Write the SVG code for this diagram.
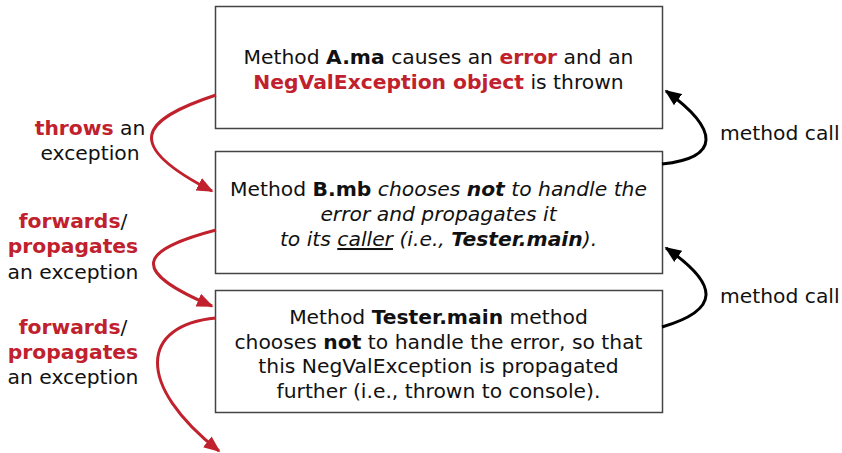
<svg xmlns="http://www.w3.org/2000/svg" width="842" height="453" viewBox="0 0 842 453">
<defs>
<style>
text{font-family:"DejaVu Sans","Verdana",sans-serif;font-size:20.3px;fill:#111}
.c{text-anchor:middle}
.r{fill:#c0212d;font-weight:bold}
.b{font-weight:bold}
.i{font-style:italic}
.box{fill:#fff;stroke:#444;stroke-width:1.5}
.red{fill:none;stroke:#c0212d;stroke-width:3}
.blk{fill:none;stroke:#000;stroke-width:3}
</style>
<marker id="ar" viewBox="0 0 10 10" refX="9" refY="5" markerWidth="5.5" markerHeight="5.5" orient="auto" markerUnits="strokeWidth">
<path d="M0,0.8 L10,5 L0,9.2 z" fill="#c0212d"/>
</marker>
<marker id="ab" viewBox="0 0 10 10" refX="9" refY="5" markerWidth="5.5" markerHeight="5.5" orient="auto" markerUnits="strokeWidth">
<path d="M0,0.8 L10,5 L0,9.2 z" fill="#000"/>
</marker>
</defs>
<rect width="842" height="453" fill="#fff"/>
<g id="nodeA">
<rect class="box" x="215.5" y="6.5" width="447" height="122"/>
<text class="c" x="438.5" y="64">Method <tspan class="b">A.ma</tspan> causes an <tspan class="r">error</tspan> and an</text>
<text class="c" x="438.5" y="89"><tspan class="r">NegValException object</tspan> is thrown</text>
</g>
<g id="nodeB">
<rect class="box" x="215.5" y="151.5" width="447" height="122"/>
<text class="c" x="438.5" y="196">Method <tspan class="b">B.mb</tspan> <tspan class="i">chooses </tspan><tspan class="i b">not</tspan><tspan class="i"> to handle the</tspan></text>
<text class="c i" x="438.5" y="221">error and propagates it</text>
<text class="c i" x="438.5" y="246">to its <tspan text-decoration="underline">caller</tspan> (i.e., <tspan class="b">Tester.main</tspan>).</text>
</g>
<g id="nodeC">
<rect class="box" x="215.5" y="290.5" width="447" height="122"/>
<text class="c" x="438.5" y="324">Method <tspan class="b">Tester.main</tspan> method</text>
<text class="c" x="438.5" y="349">chooses <tspan class="b">not</tspan> to handle the error, so that</text>
<text class="c" x="438.5" y="373">this NegValException is propagated</text>
<text class="c" x="438.5" y="398">further (i.e., thrown to console).</text>
</g>
<g id="labels">
<text class="c" x="90" y="135"><tspan class="r">throws</tspan> an</text>
<text class="c" x="90" y="160">exception</text>
<text class="c" x="73" y="228"><tspan class="r">forwards</tspan>/</text>
<text class="c r" x="73" y="253">propagates</text>
<text class="c" x="73" y="279">an exception</text>
<text class="c" x="73" y="334"><tspan class="r">forwards</tspan>/</text>
<text class="c r" x="73" y="359">propagates</text>
<text class="c" x="73" y="384">an exception</text>
<text x="720" y="140">method call</text>
<text x="720" y="303">method call</text>
</g>
<g id="connectors">
<path class="red" d="M216,95 C140,120 122,145 212,191" marker-end="url(#ar)"/>
<path class="red" d="M216,230 C140,250 127,270 212,306" marker-end="url(#ar)"/>
<path class="red" d="M216,318 C140,325 135,385 219,451" marker-end="url(#ar)"/>
<path class="blk" d="M662,164 C720,158 720,130 666,91" marker-end="url(#ab)"/>
<path class="blk" d="M662,327 C720,310 720,285 666,248" marker-end="url(#ab)"/>
</g>
</svg>
